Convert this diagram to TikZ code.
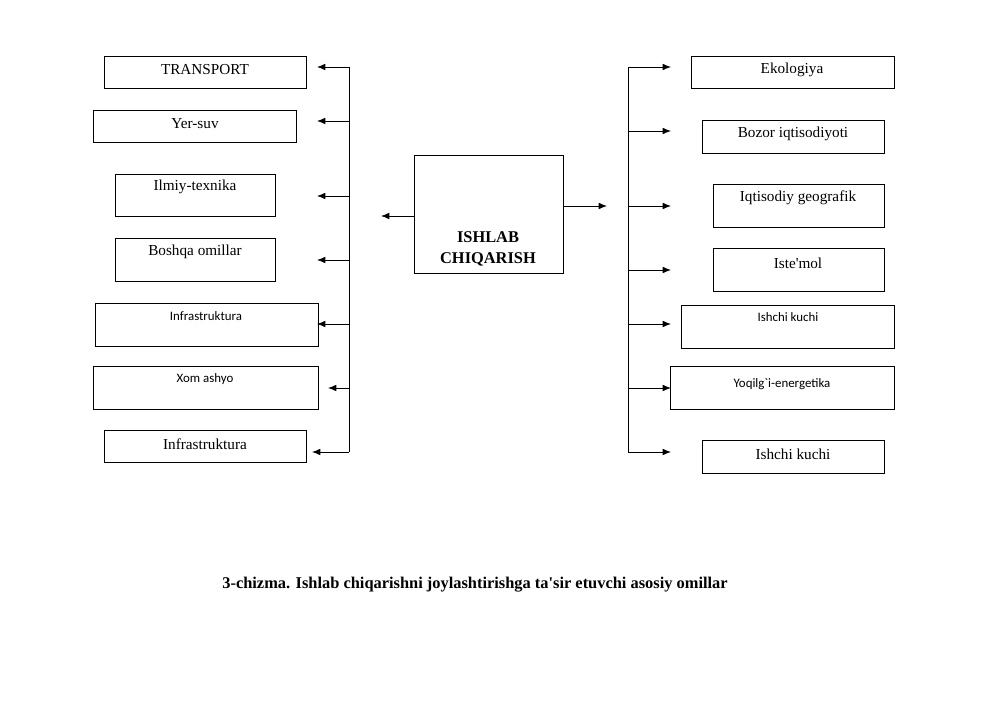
\documentclass[tikz,border=0pt]{standalone}
\usepackage{fontspec}
\setmainfont{Liberation Serif}
\newfontfamily\smallsans{Carlito}
\usetikzlibrary{arrows.meta}

\tikzset{
  box/.style={draw, line width=0.7pt, inner sep=0pt},
  arr/.style={line width=0.7pt, -{Latex[length=2.5mm,width=2mm]}},
  txt/.style={font=\fontsize{13}{15}\selectfont},
  stxt/.style={font=\smallsans\fontsize{11}{13}\selectfont}
}

% box from corner to corner, in pixels
\newcommand{\factorbox}[5]{%
  \node[box, minimum width={(#3-#1)*0.03cm}, minimum height={(#4-#2)*0.03cm}]
    (#5) at ({(#1+#3)/2}, {(#2+#4)/2}) {};}

\begin{document}
\begin{tikzpicture}[x=0.03cm, y=-0.03cm]
  \useasboundingbox (0,0) rectangle (1000,707);

  % left side
  \factorbox{104}{56}{306}{88}{l1}
  \node[txt] (tl1) at (205,70) {TRANSPORT};
  \factorbox{93}{110}{296}{142}{l2}
  \node[txt] (tl2) at (195,124) {Yer-suv};
  \factorbox{115}{174}{275}{216}{l3}
  \node[txt] (tl3) at (195,187) {Ilmiy-texnika};
  \factorbox{115}{238}{275}{281}{l4}
  \node[txt] (tl4) at (195,252) {Boshqa omillar};
  \factorbox{95}{303}{318}{346}{l5}
  \node[stxt] (tl5) at (206,316) {Infrastruktura};
  \factorbox{93}{366}{318}{409}{l6}
  \node[stxt] (tl6) at (205,379) {Xom ashyo};
  \factorbox{104}{430}{306}{462}{l7}
  \node[txt] (tl7) at (205,444) {Infrastruktura};

  \coordinate (lt) at (349,67);
  \coordinate (lb) at (349,452);
  \draw[line width=0.8pt] (lt) -- (lb);
  \foreach \y/\e in {67/317,121/317,196/317,260/317,324/317,388/328,452/312}
    \draw[arr] (349,\y) -- (\e,\y);

  % centre
  \factorbox{414}{155}{563}{273}{c}
  \node[font=\bfseries\fontsize{14}{16}\selectfont, align=center] (tc) at (488,249)
    {ISHLAB\\[2pt]CHIQARISH};
  \coordinate (cl) at (381,216);
  \coordinate (cr) at (607,206);
  \draw[arr] (414,216) -- (cl);
  \draw[arr] (563,206) -- (cr);

  % right side
  \factorbox{691}{56}{894}{88}{r1}
  \node[txt] (tr1) at (792,70) {Ekologiya};
  \factorbox{702}{120}{884}{153}{r2}
  \node[txt] (tr2) at (793,134) {Bozor iqtisodiyoti};
  \factorbox{713}{184}{884}{227}{r3}
  \node[txt] (tr3) at (798,198) {Iqtisodiy geografik};
  \factorbox{713}{248}{884}{291}{r4}
  \node[txt] (tr4) at (798,263) {Iste\textquotesingle mol};
  \factorbox{681}{305}{894}{348}{r5}
  \node[stxt] (tr5) at (788,317) {Ishchi kuchi};
  \factorbox{670}{366}{894}{409}{r6}
  \node[stxt] (tr6) at (782,384) {Yoqilg`i-energetika};
  \factorbox{702}{440}{884}{473}{r7}
  \node[txt] (tr7) at (793,454) {Ishchi kuchi};

  \coordinate (rt) at (628,67);
  \coordinate (rb) at (628,452);
  \draw[line width=0.8pt] (rt) -- (rb);
  \foreach \y in {67,131,206,270,324,388,452}
    \draw[arr] (628,\y) -- (671,\y);

  % caption
  \node[font=\bfseries\fontsize{14}{16}\selectfont] (cap) at (475,585)
    {3-chizma. Ishlab chiqarishni joylashtirishga ta\textquotesingle sir etuvchi asosiy omillar};
\end{tikzpicture}
\end{document}
